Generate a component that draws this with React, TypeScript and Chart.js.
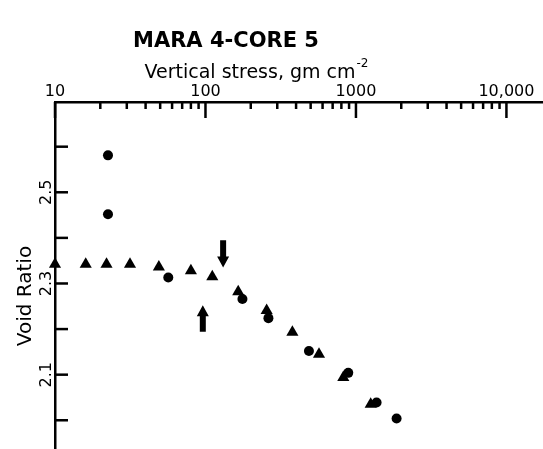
import React, { useEffect, useRef } from 'react';
import { Chart, registerables } from 'chart.js';

Chart.register(...registerables);

const TITLE = 'MARA 4-CORE 5';
const X_TITLE = 'Vertical stress, gm cm';
const X_TITLE_SUP = '-2';
const Y_TITLE = 'Void Ratio';

const X_MIN = 10;
const X_MAX = 17500;
const Y_MIN = 1.937;
const Y_MAX = 2.698;

const X_MAJOR = [10, 100, 1000, 10000];
const X_LABELS = ['10', '100', '1000', '10,000'];
const X_MINOR_MULT = [2, 3, 4, 5, 6, 7, 8, 9];
const Y_TICKS = [2.0, 2.1, 2.2, 2.3, 2.4, 2.5, 2.6];
const Y_LABEL_VALUES = [2.1, 2.3, 2.5];
const Y_LABELS = ['2.1', '2.3', '2.5'];

// triangles
const TRI_X = [10, 16, 22, 31.5, 49, 80, 111, 165, 255, 378, 568, 824, 1253];
const TRI_Y = [2.342, 2.342, 2.342, 2.342, 2.336, 2.328, 2.315, 2.282, 2.241, 2.193, 2.145, 2.094, 2.035];
// circles
const CIRC_X = [22.5, 22.5, 56.6, 176, 262, 487, 889, 1371, 1862];
const CIRC_Y = [2.581, 2.452, 2.313, 2.266, 2.224, 2.152, 2.104, 2.039, 2.004];
// arrows (x, tail y, tip y)
const ARROW_X = [96, 131];
const ARROW_TAIL = [2.194, 2.395];
const ARROW_TIP = [2.252, 2.335];

const FONT = '"DejaVu Sans", sans-serif';

const decorPlugin = {
  id: 'decor',
  afterDraw(chart: any) {
    const ctx = chart.ctx;
    const xs = chart.scales.x;
    const ys = chart.scales.y;
    const area = chart.chartArea;
    ctx.save();
    ctx.strokeStyle = '#000';
    ctx.fillStyle = '#000';
    ctx.lineWidth = 2.5;
    ctx.lineCap = 'butt';
    // x ticks (inside)
    X_MAJOR.forEach((d) => {
      const px = xs.getPixelForValue(d);
      ctx.beginPath();
      ctx.moveTo(px, area.top);
      ctx.lineTo(px, area.top + 16);
      ctx.stroke();
      X_MINOR_MULT.forEach((m) => {
        const v = d * m;
        if (v > X_MAX) return;
        const p = xs.getPixelForValue(v);
        ctx.beginPath();
        ctx.moveTo(p, area.top);
        ctx.lineTo(p, area.top + 7);
        ctx.stroke();
      });
    });
    // y ticks (inside)
    Y_TICKS.forEach((v) => {
      const py = ys.getPixelForValue(v);
      ctx.beginPath();
      ctx.moveTo(area.left, py);
      ctx.lineTo(area.left + 13, py);
      ctx.stroke();
    });
    // arrows
    ARROW_X.forEach((xv, i) => {
      const px = xs.getPixelForValue(xv);
      const tail = ys.getPixelForValue(ARROW_TAIL[i]);
      const tip = ys.getPixelForValue(ARROW_TIP[i]);
      const dir = tip > tail ? 1 : -1;
      const headLen = 11;
      const neck = tip - dir * headLen;
      ctx.beginPath();
      ctx.moveTo(px - 3, tail);
      ctx.lineTo(px + 3, tail);
      ctx.lineTo(px + 3, neck);
      ctx.lineTo(px + 6, neck);
      ctx.lineTo(px, tip);
      ctx.lineTo(px - 6, neck);
      ctx.lineTo(px - 3, neck);
      ctx.closePath();
      ctx.fill();
    });
    // titles
    ctx.textBaseline = 'alphabetic';
    ctx.textAlign = 'center';
    ctx.font = `bold 21px ${FONT}`;
    ctx.fillText(TITLE, 226, 47);
    ctx.font = `19px ${FONT}`;
    const w1 = ctx.measureText(X_TITLE).width;
    ctx.font = `12px ${FONT}`;
    const w2 = ctx.measureText(X_TITLE_SUP).width;
    const startX = 256 - (w1 + w2) / 2;
    ctx.textAlign = 'left';
    ctx.font = `19px ${FONT}`;
    ctx.fillText(X_TITLE, startX, 78);
    ctx.font = `12px ${FONT}`;
    ctx.fillText(X_TITLE_SUP, startX + w1 + 1, 67);
    ctx.translate(26, 296);
    ctx.rotate(-Math.PI / 2);
    ctx.textAlign = 'center';
    ctx.textBaseline = 'middle';
    ctx.font = `20px ${FONT}`;
    ctx.fillText(Y_TITLE, 0, 0);
    ctx.restore();
  },
};

export default function App() {
  const ref = useRef<HTMLCanvasElement | null>(null);
  useEffect(() => {
    if (!ref.current) return;
    const chart = new Chart(ref.current, {
      type: 'scatter',
      data: {
        datasets: [
          {
            label: 'triangles',
            data: TRI_X.map((x, i) => ({ x, y: TRI_Y[i] })),
            pointStyle: 'triangle',
            pointRadius: 7,
            backgroundColor: '#000',
            borderColor: '#000',
            borderWidth: 0,
            clip: false,
          },
          {
            label: 'circles',
            data: CIRC_X.map((x, i) => ({ x, y: CIRC_Y[i] })),
            pointStyle: 'circle',
            pointRadius: 5,
            backgroundColor: '#000',
            borderColor: '#000',
            borderWidth: 0,
            clip: false,
          },
        ],
      },
      options: {
        animation: false,
        responsive: false,
        maintainAspectRatio: false,
        layout: { padding: 0, autoPadding: false },
        plugins: {
          legend: { display: false },
          title: { display: false },
          tooltip: { enabled: false },
        },
        scales: {
          x: {
            type: 'logarithmic',
            position: 'top',
            min: X_MIN,
            max: X_MAX,
            grid: { display: false, drawTicks: false },
            border: { display: true, color: '#000', width: 2.5 },
            afterBuildTicks: (scale: any) => {
              scale.ticks = X_MAJOR.map((v) => ({ value: v }));
            },
            afterFit: (scale: any) => {
              scale.height = 102;
              scale.paddingLeft = 0;
              scale.paddingRight = 0;
            },
            ticks: {
              autoSkip: false,
              maxRotation: 0,
              minRotation: 0,
              padding: 1,
              color: '#000',
              font: { family: FONT, size: 16 },
              callback: (v: any) => {
                const i = X_MAJOR.indexOf(Number(v));
                return i >= 0 ? X_LABELS[i] : '';
              },
            },
          },
          y: {
            type: 'linear',
            position: 'left',
            min: Y_MIN,
            max: Y_MAX,
            grid: { display: false, drawTicks: false },
            border: { display: true, color: '#000', width: 2.5 },
            afterBuildTicks: (scale: any) => {
              scale.ticks = Y_LABEL_VALUES.map((v) => ({ value: v }));
            },
            afterFit: (scale: any) => {
              scale.width = 55;
              scale.paddingTop = 0;
              scale.paddingBottom = 0;
            },
            ticks: {
              autoSkip: false,
              minRotation: 90,
              maxRotation: 90,
              crossAlign: 'center',
              padding: -5,
              color: '#000',
              font: { family: FONT, size: 16 },
              callback: (v: any) => {
                const i = Y_LABEL_VALUES.findIndex((t) => Math.abs(t - Number(v)) < 1e-6);
                return i >= 0 ? Y_LABELS[i] : '';
              },
            },
          },
        },
      } as any,
      plugins: [decorPlugin],
    });
    return () => chart.destroy();
  }, []);
  return (
    <div style={{ position: 'fixed', left: 0, top: 0, width: 543, height: 449, background: '#fff' }}>
      <canvas ref={ref} width={543} height={449} style={{ width: 543, height: 449, display: 'block' }} />
    </div>
  );
}
